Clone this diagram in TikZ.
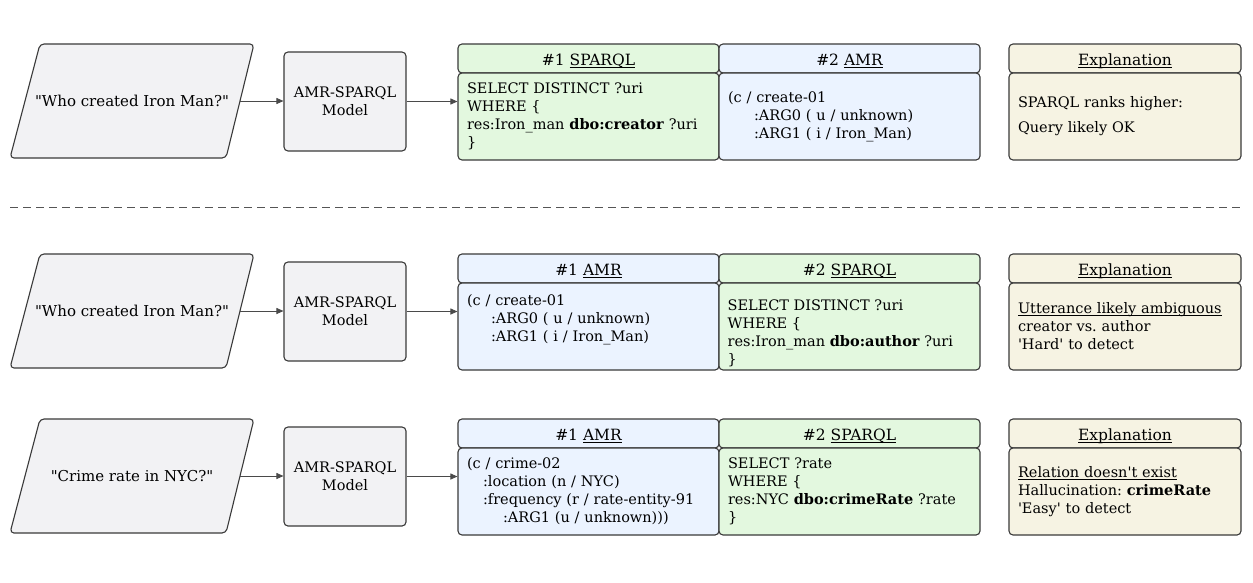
\documentclass[tikz,border=0pt]{standalone}
\usepackage{fontspec}
\setmainfont{DejaVu Serif}[Ligatures=TeXOff]
\usetikzlibrary{arrows.meta}
\definecolor{grayfill}{HTML}{F2F2F4}
\definecolor{greenfill}{HTML}{E3F8DF}
\definecolor{bluefill}{HTML}{EBF3FF}
\definecolor{beigefill}{HTML}{F6F3E3}
\definecolor{bord}{HTML}{3A3A3A}
\definecolor{arr}{HTML}{4A4A4A}
\definecolor{dashc}{HTML}{555555}
\frenchspacing
\newcommand\ulx[1]{\underline{\raisebox{0pt}[\height][0pt]{#1}}}
\tikzset{
  shapebox/.style={draw=bord, line width=1.1pt, rounded corners=4pt, fill=grayfill},
  txt/.style={font=\fontsize{15}{18}\selectfont, text=black, align=center},
  modelbox/.style={draw=bord, line width=1.1pt, rounded corners=4pt, fill=grayfill,
    minimum width=122pt, minimum height=99pt, inner sep=0pt, align=center,
    font=\fontsize{14.5}{18}\selectfont},
  hdr/.style={draw=bord, line width=1.1pt, rounded corners=4pt, minimum height=29pt,
    inner sep=0pt, align=center, text height=15pt, text depth=1pt,
    font=\fontsize{15.5}{18}\selectfont},
  body/.style={draw=bord, line width=1.1pt, rounded corners=4pt, minimum height=87pt,
    inner xsep=9pt, inner ysep=0pt, align=left, font=\fontsize{14.5}{18}\selectfont},
  bodytext/.style={inner xsep=9pt, inner ysep=0pt, align=left, anchor=west,
    font=\fontsize{14.5}{18}\selectfont},
  conn/.style={draw=arr, line width=0.9pt, -{Triangle[length=7pt,width=6pt]}},
}
\begin{document}
\begin{tikzpicture}[x=1pt,y=-1pt]
\useasboundingbox (0,0) rectangle (1253,582);
\fill[white] (0,0) rectangle (1253,582);

% ---------------- Row 1 ----------------
\draw[shapebox] (40,44) -- (254,44) -- (226,158) -- (10,158) -- cycle;
\coordinate (q1e) at (240,101);
\node[txt] (q1) at (132,101) {"Who created Iron Man?"};
\node[modelbox] (m1) at (345,101.5) {AMR-SPARQL\\Model};
\node[hdr, fill=greenfill, minimum width=261pt] (h11) at (588.5,58.5) {\#1 \ulx{SPARQL}};
\node[body, fill=greenfill, minimum width=261pt, text width=243pt] (b11) at (588.5,116.5)
  {SELECT DISTINCT ?uri\\WHERE \{\\res:Iron\_man \textbf{dbo:creator} ?uri\\\}};
\node[hdr, fill=bluefill, minimum width=261pt] (h12) at (849.5,58.5) {\#2 \ulx{AMR}};
\node[body, fill=bluefill, minimum width=261pt, text width=243pt] (b12) at (849.5,116.5)
  {(c / create-01\\\hspace*{26pt}:ARG0 ( u / unknown)\\\hspace*{26pt}:ARG1 ( i / Iron\_Man)};
\node[hdr, fill=beigefill, minimum width=232pt] (h13) at (1125,58.5) {\ulx{Explanation}};
\node[body, fill=beigefill, minimum width=232pt, text width=214pt] (b13) at (1125,116.5)
  {SPARQL ranks higher:\\[7pt]Query likely OK};
\draw[conn] (q1e) -- (q1e -| m1.west);
\draw[conn] (m1.east) -- (m1.east -| b11.west);

% ---------------- Separator ----------------
\coordinate (dl) at (10,207);
\coordinate (dr) at (1243,207);
\draw[dashc, line width=1pt, dash pattern=on 8pt off 5pt] (dl) -- (dr);

% ---------------- Row 2 ----------------
\begin{scope}[yshift=-210pt]
\draw[shapebox] (40,44) -- (254,44) -- (226,158) -- (10,158) -- cycle;
\coordinate (q2e) at (240,101);
\node[txt] (q2) at (132,101) {"Who created Iron Man?"};
\node[modelbox] (m2) at (345,101.5) {AMR-SPARQL\\Model};
\node[hdr, fill=bluefill, minimum width=261pt] (h21) at (588.5,58.5) {\#1 \ulx{AMR}};
\node[body, fill=bluefill, minimum width=261pt, text width=243pt] (b21) at (588.5,116.5)
  {(c / create-01\\\hspace*{24pt}:ARG0 ( u / unknown)\\\hspace*{24pt}:ARG1 ( i / Iron\_Man)\\[0pt]\mbox{}};
\node[hdr, fill=greenfill, minimum width=261pt] (h22) at (849.5,58.5) {\#2 \ulx{SPARQL}};
\node[body, fill=greenfill, minimum width=261pt] (b22) at (849.5,116.5) {};
\node[bodytext] (t22) at ([yshift=-7pt]b22.west)
  {SELECT DISTINCT ?uri\\WHERE \{\\res:Iron\_man \textbf{dbo:author} ?uri\\\}};
\node[hdr, fill=beigefill, minimum width=232pt] (h23) at (1125,58.5) {\ulx{Explanation}};
\node[body, fill=beigefill, minimum width=232pt, text width=214pt] (b23) at (1125,116.5)
  {\ulx{Utterance likely ambiguous}\\creator vs. author\\'Hard' to detect};
\draw[conn] (q2e) -- (q2e -| m2.west);
\draw[conn] (m2.east) -- (m2.east -| b21.west);
\end{scope}

% ---------------- Row 3 ----------------
\begin{scope}[yshift=-375pt]
\draw[shapebox] (40,44) -- (254,44) -- (226,158) -- (10,158) -- cycle;
\coordinate (q3e) at (240,101);
\node[txt] (q3) at (132,101) {"Crime rate in NYC?"};
\node[modelbox] (m3) at (345,101.5) {AMR-SPARQL\\Model};
\node[hdr, fill=bluefill, minimum width=261pt] (h31) at (588.5,58.5) {\#1 \ulx{AMR}};
\node[body, fill=bluefill, minimum width=261pt, text width=243pt] (b31) at (588.5,116.5)
  {(c / crime-02\\\hspace*{16pt}:location (n / NYC)\\\hspace*{16pt}:frequency (r / rate-entity-91\\\hspace*{36pt}:ARG1 (u / unknown)))};
\node[hdr, fill=greenfill, minimum width=261pt] (h32) at (849.5,58.5) {\#2 \ulx{SPARQL}};
\node[body, fill=greenfill, minimum width=261pt, text width=243pt] (b32) at (849.5,116.5)
  {SELECT ?rate\\WHERE \{\\res:NYC \textbf{dbo:crimeRate} ?rate\\\}};
\node[hdr, fill=beigefill, minimum width=232pt] (h33) at (1125,58.5) {\ulx{Explanation}};
\node[body, fill=beigefill, minimum width=232pt, text width=214pt] (b33) at (1125,116.5)
  {\ulx{Relation doesn't exist}\\Hallucination: \textbf{crimeRate}\\'Easy' to detect};
\draw[conn] (q3e) -- (q3e -| m3.west);
\draw[conn] (m3.east) -- (m3.east -| b31.west);
\end{scope}
\end{tikzpicture}
\end{document}
